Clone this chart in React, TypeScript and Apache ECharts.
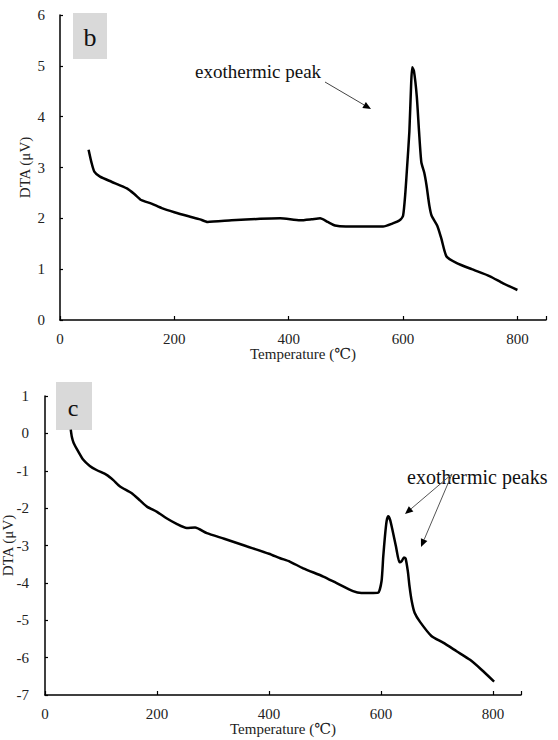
import React, { useEffect, useRef } from "react";
import * as echarts from "echarts";

const tempB = [50, 55, 60, 70, 90, 117, 130, 142, 160, 178, 200, 225, 245, 258, 300, 350, 385, 420, 440, 455, 468, 481, 500, 565, 582, 594, 600, 604, 607, 611, 614, 616, 619, 624, 628, 632, 637, 641, 646, 650, 660, 667, 676, 694, 720, 752, 775, 800];
const dtaB = [3.35, 3.1, 2.92, 2.82, 2.72, 2.59, 2.48, 2.36, 2.29, 2.2, 2.12, 2.04, 1.98, 1.93, 1.96, 1.99, 2.0, 1.96, 1.98, 2.0, 1.93, 1.86, 1.84, 1.84, 1.9, 1.96, 2.05, 2.5, 3.0, 3.7, 4.6, 4.97, 4.9, 4.4, 3.7, 3.1, 2.9, 2.65, 2.25, 2.05, 1.85, 1.6, 1.25, 1.12, 1.0, 0.86, 0.72, 0.59];

const tempC = [46, 48, 51, 58, 68, 80, 92, 110, 122, 134, 155, 170, 182, 200, 217, 235, 253, 268, 289, 320, 360, 400, 420, 437, 461, 497, 520, 550, 565, 580, 595, 601, 604, 607, 610, 613, 616, 620, 627, 633, 637, 641, 644, 648, 651, 655, 660, 670, 690, 711, 735, 759, 780, 802];
const dtaC = [0.1, -0.1, -0.25, -0.45, -0.7, -0.87, -0.98, -1.11, -1.25, -1.42, -1.6, -1.8, -1.96, -2.1, -2.27, -2.42, -2.53, -2.52, -2.67, -2.82, -3.02, -3.22, -3.34, -3.43, -3.61, -3.83, -4.0, -4.22, -4.27, -4.27, -4.26, -3.95, -3.3, -2.76, -2.35, -2.22, -2.3, -2.55, -3.05, -3.45, -3.42, -3.32, -3.35, -3.7, -4.1, -4.5, -4.8, -5.05, -5.42, -5.6, -5.83, -6.06, -6.33, -6.64];

const xTicks = [0, 200, 400, 600, 800];
const xName = "Temperature (℃)";
const yName = "DTA (μV)";
const panelLabels = ["b", "c"];
const annotB = "exothermic peak";
const annotC = "exothermic peaks";

const FONT = "Liberation Serif, DejaVu Serif, serif";
const TXT = "#222";

function arrow(x1: number, y1: number, x2: number, y2: number, color: string) {
  const dx = x2 - x1, dy = y2 - y1;
  const len = Math.sqrt(dx * dx + dy * dy);
  const ux = dx / len, uy = dy / len;
  const hl = 8, hw = 3.5;
  const bx = x2 - ux * hl, by = y2 - uy * hl;
  const px = -uy * hw, py = ux * hw;
  return [
    { type: "line", shape: { x1, y1, x2: bx, y2: by }, style: { stroke: color, lineWidth: 1 } },
    { type: "polygon", shape: { points: [[x2, y2], [bx + px, by + py], [bx - px, by - py]] }, style: { fill: "#000" } },
  ];
}

function xAxisCfg(gridIndex: number) {
  return {
    type: "value",
    gridIndex,
    min: 0,
    max: 850,
    interval: 200,
    name: xName,
    nameLocation: "middle",
    nameGap: 26,
    nameMoveOverlap: false,
    nameTextStyle: { fontFamily: FONT, fontSize: 15, color: TXT },
    axisLine: { show: true, onZero: false, lineStyle: { color: "#000", width: 1.5 } },
    axisTick: { show: true, inside: true, length: 4, lineStyle: { color: "#000", width: 1.2 } },
    axisLabel: {
      margin: 11,
      fontFamily: FONT,
      fontSize: 15,
      color: TXT,
      formatter: (v: number) => (xTicks.indexOf(v) >= 0 ? String(v) : ""),
    },
    splitLine: { show: false },
  };
}

function yAxisCfg(gridIndex: number, min: number, max: number, nameGap: number, labelMargin: number) {
  return {
    type: "value",
    gridIndex,
    min,
    max,
    interval: 1,
    name: yName,
    nameLocation: "middle",
    nameGap,
    nameMoveOverlap: false,
    nameTextStyle: { fontFamily: FONT, fontSize: 15, color: TXT },
    axisLine: { show: true, onZero: false, lineStyle: { color: "#000", width: 1.5 } },
    axisTick: { show: true, inside: true, length: 3, lineStyle: { color: "#000", width: 1.2 } },
    axisLabel: { margin: labelMargin, fontFamily: FONT, fontSize: 15, color: TXT },
    splitLine: { show: false },
  };
}

function txt(x: number, y: number, text: string, size: number, align: string) {
  return {
    type: "text",
    x,
    y,
    style: { text, fontSize: size, fontFamily: FONT, fill: "#111", align, verticalAlign: "middle" },
  };
}

export default function App() {
  const ref = useRef<HTMLDivElement>(null);
  useEffect(() => {
    if (!ref.current) return;
    const chart = echarts.init(ref.current, null, { renderer: "svg" });
    const option: any = {
      animation: false,
      backgroundColor: "#fff",
      textStyle: { fontFamily: FONT },
      grid: [
        { left: 60, top: 15, width: 486, height: 305, outerBoundsMode: "none", containLabel: false },
        { left: 45, top: 396, width: 476, height: 299, outerBoundsMode: "none", containLabel: false },
      ],
      xAxis: [xAxisCfg(0), xAxisCfg(1)],
      yAxis: [yAxisCfg(0, 0, 6, 28, 15), yAxisCfg(1, -7, 1, 30, 16)],
      series: [
        {
          type: "line",
          xAxisIndex: 0,
          yAxisIndex: 0,
          data: tempB.map((t, i) => [t, dtaB[i]]),
          showSymbol: false,
          smooth: 0.2,
          lineStyle: { color: "#000", width: 2.5 },
        },
        {
          type: "line",
          xAxisIndex: 1,
          yAxisIndex: 1,
          data: tempC.map((t, i) => [t, dtaC[i]]),
          showSymbol: false,
          smooth: 0.2,
          lineStyle: { color: "#000", width: 2.5 },
        },
      ],
      graphic: [
        { type: "rect", z: 0, shape: { x: 73, y: 13, width: 34, height: 46 }, style: { fill: "#d9d9d9" } },
        txt(90, 37, panelLabels[0], 26, "center"),
        { type: "rect", z: 0, shape: { x: 56, y: 382, width: 36, height: 48 }, style: { fill: "#d9d9d9" } },
        txt(73, 408, panelLabels[1], 24, "center"),
        txt(195, 71, annotB, 19, "left"),
        ...arrow(325, 82, 371, 109, "#444"),
        txt(407, 477, annotC, 20, "left"),
        ...arrow(452, 474, 405, 514, "#555"),
        ...arrow(452, 474, 421, 547, "#555"),
      ],
    };
    chart.setOption(option);
    return () => chart.dispose();
  }, []);
  return (
    <div
      ref={ref}
      style={{ position: "fixed", left: 0, top: 0, width: 558, height: 740, background: "#fff" }}
    />
  );
}
